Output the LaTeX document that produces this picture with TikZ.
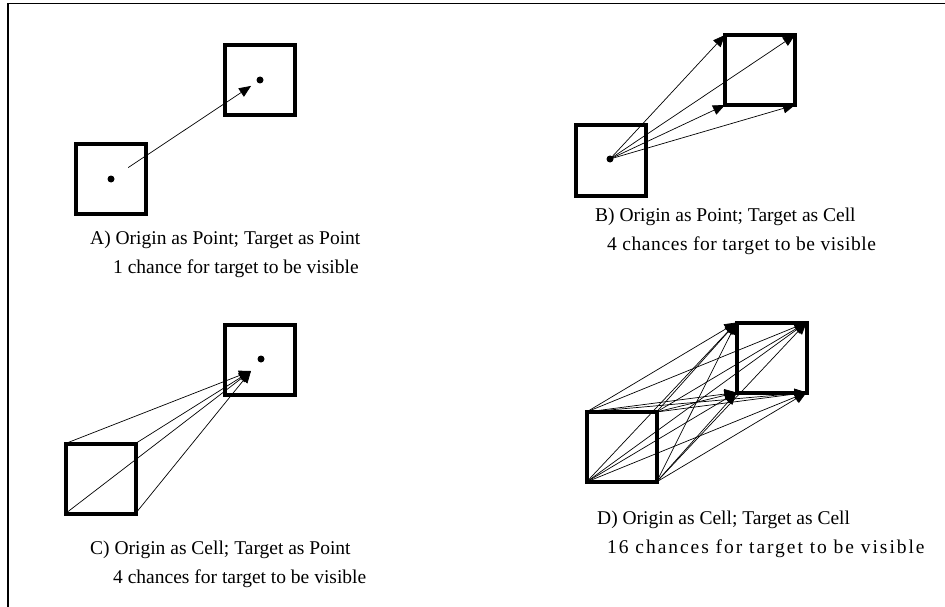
\documentclass[tikz,border=0pt]{standalone}
\usepackage{fontspec}
\setmainfont{Liberation Serif}
\usetikzlibrary{arrows.meta}
\begin{document}
\begin{tikzpicture}[x=1pt,y=-1pt,
 cell/.style={draw, line width=4pt, minimum size=70pt, inner sep=0pt, outer sep=0pt},
 dot/.style={circle, fill, inner sep=0pt, minimum size=7pt},
 ray/.style={line width=0.7pt, -{Triangle[length=12pt,width=10pt]}},
 lbl/.style={anchor=base west, inner sep=0pt, font=\fontsize{19.5}{23}\selectfont}]
\useasboundingbox (0,0) rectangle (945,607);
\draw[line width=1.5pt] (8,607) -- (8,3.5) -- (945,3.5);

% A
\node[cell] (ao) at (110.5,179) {};
\node[cell] (at) at (260,80.5) {};
\node[dot] (aod) at (111,179) {};
\node[dot] (atd) at (260,80) {};
\draw[ray, shorten <=17pt, shorten >=7pt] (aod) -- (atd);
\node[lbl] (al1) at (90,244) {A) Origin as Point; Target as Point};
\node[lbl] (al2) at (113,273) {1 chance for target to be visible};

% B
\node[cell] (bo) at (610.5,160.5) {};
\node[cell] (bt) at (760,70) {};
\node[dot] (bod) at (610,159) {};
\foreach \c in {north west,north east,south west,south east}
  \draw[ray] (bod.center) -- (bt.\c);
\node[lbl] (bl1) at (595,221) {B) Origin as Point; Target as Cell};
\node[lbl] (bl2) at (607,250) {\addfontfeature{LetterSpace=3}4 chances for target to be visible};

% C
\node[cell] (co) at (100.5,478.5) {};
\node[cell] (ct) at (260,359.5) {};
\node[dot] (ctd) at (261,359) {};
\coordinate (ctip) at (251,371);
\foreach \c in {north west,north east,south west,south east}
  \draw[ray] (co.\c) -- (ctip);
\node[lbl] (cl1) at (90,554) {C) Origin as Cell; Target as Point};
\node[lbl] (cl2) at (113,583) {4 chances for target to be visible};

% D
\node[cell] (do) at (621.5,447) {};
\node[cell] (dt) at (771.5,357.5) {};
\foreach \c in {north west,north east,south west,south east}
  \foreach \d in {north west,north east,south west,south east}
    \draw[ray] (do.\c) -- (dt.\d);
\node[lbl] (dl1) at (597,524) {D) Origin as Cell; Target as Cell};
\node[lbl] (dl2) at (607,553) {\addfontfeature{LetterSpace=10}16 chances for target to be visible};
\end{tikzpicture}
\end{document}
